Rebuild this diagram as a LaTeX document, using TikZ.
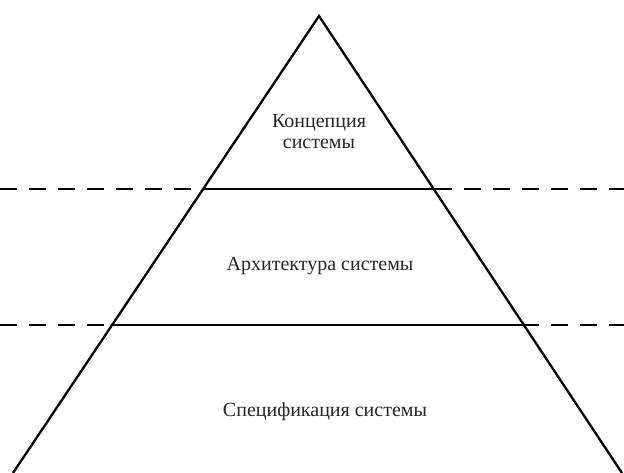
\documentclass[tikz,border=0pt]{standalone}
\usepackage{fontspec}
\setmainfont{Liberation Serif}
\usetikzlibrary{calc}
\begin{document}
\begin{tikzpicture}[x=1pt,y=-1pt,
  edge/.style={line width=2.3pt,black},
  level/.style={line width=2.3pt,black},
  guide/.style={line width=1.4pt,black,dash pattern=on 17pt off 12pt},
  lbl/.style={font=\fontsize{20}{22}\selectfont,text=black!85,align=center,anchor=base,inner sep=0pt}]
\useasboundingbox (0,0) rectangle (624,473);
\coordinate (apex) at (319,16);
\coordinate (bl) at (13,473);
\coordinate (br) at (622,473);
\coordinate (g1l) at (0,189);
\coordinate (g1r) at (624,189);
\coordinate (g2l) at (0,325);
\coordinate (g2r) at (624,325);
% dashed guides
\draw[guide] (g1l) -- (g1r);
\draw[guide] (g2l) -- (g2r);
% triangle sides
\draw[edge] (bl) -- (apex) -- (br);
% level lines
\draw[level,line width=2.8pt] ($(apex)!{173/457}!(bl)$) coordinate (l1a) -- ($(apex)!{173/457}!(br)$) coordinate (l1b);
\draw[level] ($(apex)!{309/457}!(bl)$) coordinate (l2a) -- ($(apex)!{309/457}!(br)$) coordinate (l2b);
% labels
\node[lbl] (t1) at (319,128) {Концепция};
\node[lbl] (t1b) at (319,149) {системы};
\node[lbl] (t2) at (320,271) {Архитектура системы};
\node[lbl] (t3) at (325,416) {Спецификация системы};
\end{tikzpicture}
\end{document}
